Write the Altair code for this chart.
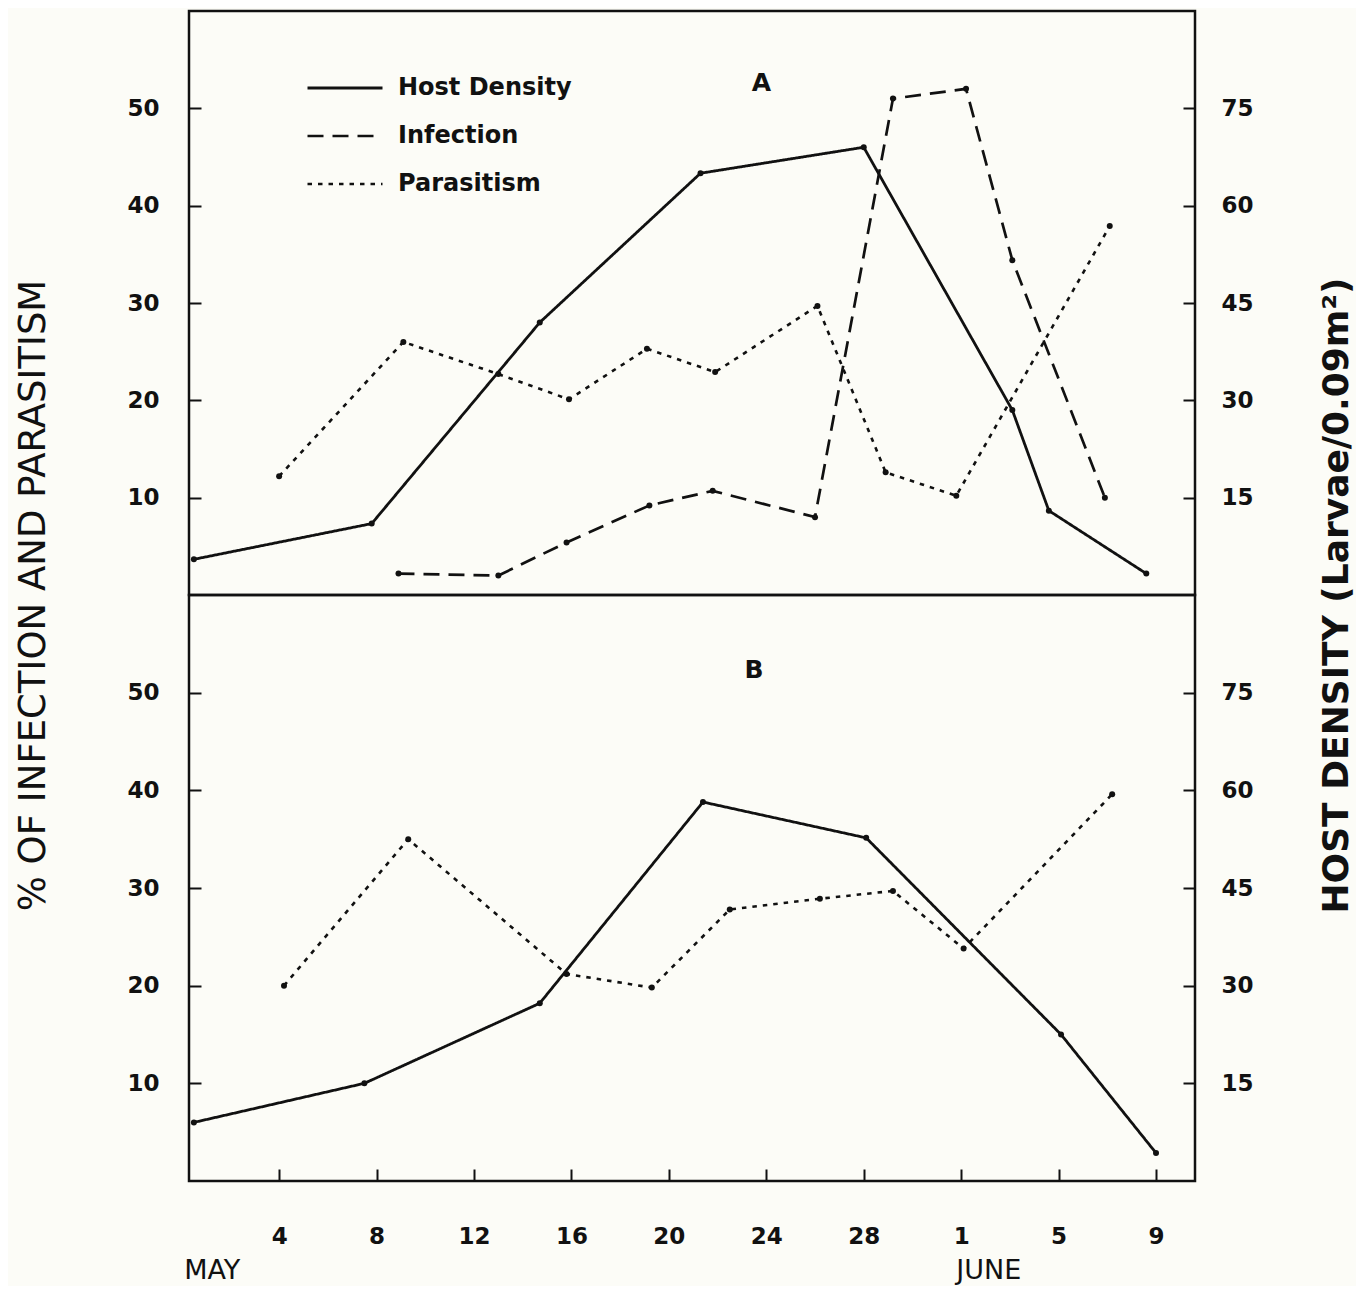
import altair as alt
import pandas as pd

# ---------------- data ----------------
SERIES = ["Host Density", "Infection", "Parasitism"]

# Panel A
a_host_day = [0.5, 7.8, 14.7, 21.3, 28.0, 34.1, 35.6, 39.6]
a_host = [5.5, 11.0, 42.0, 65.0, 69.0, 28.5, 13.0, 3.3]
a_inf_day = [8.9, 13.0, 15.8, 19.2, 21.8, 26.0, 29.2, 32.2, 34.1, 37.9]
a_inf = [2.2, 2.0, 5.4, 9.2, 10.7, 8.0, 51.0, 52.0, 34.4, 10.0]
a_par_day = [4.0, 9.1, 13.0, 15.9, 19.1, 21.9, 26.1, 28.9, 31.8, 38.1]
a_par = [12.2, 26.0, 22.7, 20.1, 25.3, 22.9, 29.7, 12.6, 10.2, 37.9]

# Panel B
b_host_day = [0.5, 7.5, 14.7, 21.4, 28.1, 36.1, 40.0]
b_host = [9.0, 15.0, 27.3, 58.2, 52.7, 22.5, 4.3]
b_par_day = [4.2, 9.3, 15.8, 19.3, 22.5, 26.2, 29.2, 32.1, 38.2]
b_par = [20.0, 35.0, 21.2, 19.8, 27.8, 28.9, 29.7, 23.8, 39.6]

# axis ticks / labels
pct_ticks = [10, 20, 30, 40, 50]
host_ticks = [15, 30, 45, 60, 75]
x_tick_days = [4, 8, 12, 16, 20, 24, 28, 32, 36, 40]
x_tick_labels = ["4", "8", "12", "16", "20", "24", "28", "1", "5", "9"]
month_names = ["MAY", "JUNE"]
month_days = [0.1, 31.8]
panel_names = ["A", "B"]
panel_label_day = [23.8, 23.5]
panel_label_pct = [52.6, 52.3]

LEFT_TITLE = "% OF INFECTION AND PARASITISM"
RIGHT_TITLE = "HOST DENSITY (Larvae/0.09m\u00b2)"

# ---------------- style ----------------
FONT = "DejaVu Sans"
INK = "#111111"
BG = "#fcfcf7"
W = 1006
TOP_H = 584
BOT_H = 586
X_DOMAIN = [0.3, 41.6]
DASHES = [[1, 0], [16, 9], [4.5, 6]]
WIDTHS = [2.8, 2.6, 4.4]

dash_scale = alt.Scale(domain=SERIES, range=DASHES)
width_scale = alt.Scale(domain=SERIES, range=WIDTHS)
pct_scale = alt.Scale(domain=[0, 60], nice=False, zero=True)
host_scale = alt.Scale(domain=[0, 90], nice=False, zero=True)
x_scale = alt.Scale(domain=X_DOMAIN, nice=False, zero=False)

label_expr = "[{}][indexof([{}], datum.value)]".format(
    ",".join("'%s'" % s for s in x_tick_labels), ",".join(str(d) for d in x_tick_days)
)


def series_df(days, vals, name, col):
    return pd.DataFrame({"day": days, col: vals, "series": [name] * len(days)})


def x_enc(show):
    if show:
        axis = alt.Axis(
            values=x_tick_days, labelExpr=label_expr, orient="bottom", offset=-12,
            tickSize=12, tickWidth=2, tickColor=INK, domain=False, grid=False,
            labelFont=FONT, labelFontSize=23, labelFontWeight="bold", labelColor=INK,
            labelPadding=44, title=None,
        )
    else:
        axis = None
    return alt.X("day:Q", scale=x_scale, axis=axis)


def y_axis(values, orient, pad, title, title_x, h):
    kw = dict(
        values=values, orient=orient, offset=-12, tickSize=12, tickWidth=2,
        tickColor=INK, domain=False, grid=False, labelFont=FONT, labelFontSize=23,
        labelFontWeight="bold", labelColor=INK, labelPadding=pad, format="d",
    )
    if title:
        kw.update(
            title=title, titleAngle=270, titleX=title_x, titleY=h, titleAlign="center",
            titleBaseline="middle", titleFont=FONT,
            titleFontSize=36 if orient == "right" else 37,
            titleFontWeight="bold" if orient == "right" else "normal", titleColor=INK,
            titleLimit=900,
        )
    else:
        kw.update(title=None)
    return alt.Axis(**kw)


def panel(pct_df, host_df, h, show_x, with_titles, label_df, with_legend, month_df=None):
    x = x_enc(show_x)
    pct_y = alt.Y("pct:Q", scale=pct_scale,
                  axis=y_axis(pct_ticks, "left", 30, LEFT_TITLE if with_titles else None, -168, h))
    host_y = alt.Y("host:Q", scale=host_scale,
                   axis=y_axis(host_ticks, "right", 26, RIGHT_TITLE if with_titles else None, 153, h))
    if with_legend:
        legend = alt.Legend(
            orient="none", legendX=117, legendY=62, title=None, symbolType="stroke",
            symbolSize=5625, symbolStrokeWidth=3, symbolStrokeColor=INK,
            clipHeight=30, rowPadding=18, labelFont=FONT, labelFontSize=24,
            labelFontWeight="bold", labelColor=INK, labelOffset=14, padding=0,
            labelLimit=400,
        )
    else:
        legend = None
    dash = alt.StrokeDash("series:N", scale=dash_scale, legend=legend)
    sw = alt.StrokeWidth("series:N", scale=width_scale, legend=None)

    pct_lines = alt.Chart(pct_df).mark_line(color=INK).encode(
        x=x, y=pct_y, strokeDash=dash, strokeWidth=sw)
    pct_pts = alt.Chart(pct_df).mark_circle(size=36, color=INK, opacity=1).encode(x=x, y=pct_y)
    label = alt.Chart(label_df).mark_text(
        font=FONT, fontSize=25, fontWeight="bold", color=INK).encode(
        x=x, y=pct_y, text="name:N")
    pct_layers = [pct_lines, pct_pts, label]
    if month_df is not None:
        months = alt.Chart(month_df).mark_text(
            font=FONT, fontSize=27, color=INK, align="left", baseline="alphabetic").encode(
            x=x, y=alt.value(h + 98), text="month:N")
        pct_layers.append(months)

    host_line = alt.Chart(host_df).mark_line(color=INK).encode(
        x=x, y=host_y, strokeDash=dash, strokeWidth=sw)
    host_pts = alt.Chart(host_df).mark_circle(size=36, color=INK, opacity=1).encode(x=x, y=host_y)

    return alt.layer(alt.layer(*pct_layers), alt.layer(host_line, host_pts)).resolve_scale(
        y="independent").properties(width=W, height=h)


a_pct = pd.concat([series_df(a_inf_day, a_inf, "Infection", "pct"),
                   series_df(a_par_day, a_par, "Parasitism", "pct")], ignore_index=True)
a_hd = series_df(a_host_day, a_host, "Host Density", "host")
b_pct = series_df(b_par_day, b_par, "Parasitism", "pct")
b_hd = series_df(b_host_day, b_host, "Host Density", "host")

labels_a = pd.DataFrame({"name": [panel_names[0]], "day": [panel_label_day[0]], "pct": [panel_label_pct[0]]})
labels_b = pd.DataFrame({"name": [panel_names[1]], "day": [panel_label_day[1]], "pct": [panel_label_pct[1]]})
months_df = pd.DataFrame({"month": month_names, "day": month_days})

top = panel(a_pct, a_hd, TOP_H, False, True, labels_a, True)
bottom = panel(b_pct, b_hd, BOT_H, True, False, labels_b, False, months_df)

chart = alt.vconcat(top, bottom, spacing=0, bounds="flush").resolve_scale(
    strokeDash="independent", strokeWidth="independent").resolve_legend(
    strokeDash="independent", strokeWidth="independent").properties(
    background=BG, padding={"left": 4, "right": 0, "top": 1, "bottom": 0}
).configure_view(stroke=INK, strokeWidth=2.5)

chart.save("out.html", embed_options={"renderer": "svg", "actions": False})
